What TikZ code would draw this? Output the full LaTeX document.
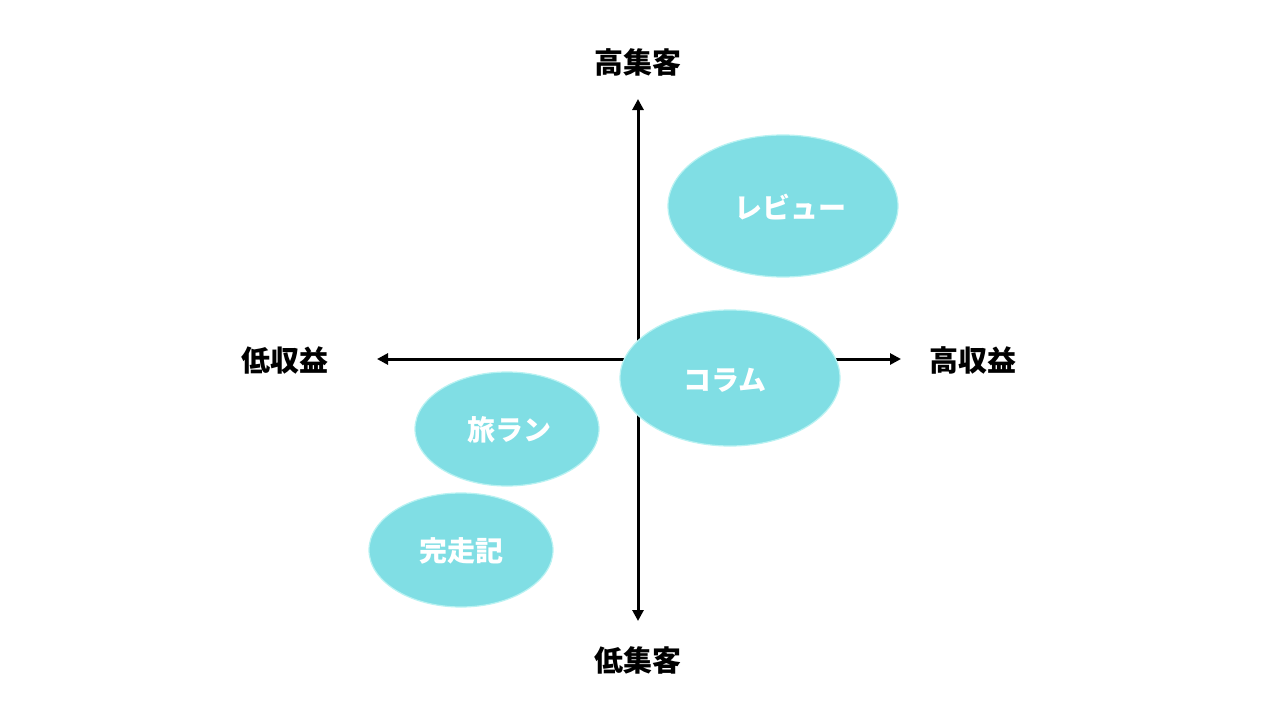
\documentclass[tikz,border=0pt]{standalone}
\usepackage{fontspec}
\newfontfamily\cjk{Noto Sans CJK JP Black}
\usetikzlibrary{arrows.meta}
\definecolor{bub}{HTML}{80DEE4}
\definecolor{bubline}{HTML}{B8F2F2}
\begin{document}
\begin{tikzpicture}[x=1pt,y=-1pt,
  axis/.style={line width=3pt,-{Triangle[length=11pt,width=11pt]}},
  lab/.style={font=\cjk\fontsize{29}{32}\selectfont,text=black},
  bubtext/.style={font=\cjk\fontsize{28}{32}\selectfont,text=white},
  bubble/.style={fill=bub,draw=bubline,line width=1.2pt}]
\useasboundingbox[fill=white] (0,0) rectangle (1280,720);
\coordinate (o) at (638,359);
\coordinate (t) at (638,99);
\coordinate (b) at (638,621);
\coordinate (l) at (377,359);
\coordinate (r) at (901,359);
\draw[axis] (o) -- (t);
\draw[axis] (o) -- (b);
\draw[axis] (o) -- (l);
\draw[axis] (o) -- (r);
\node[lab] (top) at (638,62) {高集客};
\node[lab] (bot) at (638,660) {低集客};
\node[lab] (left) at (285,360) {低収益};
\node[lab] (right) at (973,360) {高収益};
\filldraw[bubble] (783,206) ellipse [x radius=115,y radius=71];
\node[bubtext] (rev) at (790,207) {レビュー};
\filldraw[bubble] (730,378) ellipse [x radius=110,y radius=68];
\node[bubtext] (col) at (725,380) {コラム};
\filldraw[bubble] (507,429) ellipse [x radius=92,y radius=57];
\node[bubtext] (tabi) at (509,430) {旅ラン};
\filldraw[bubble] (461,550) ellipse [x radius=92,y radius=57];
\node[bubtext] (kan) at (461,551) {完走記};
\end{tikzpicture}
\end{document}
